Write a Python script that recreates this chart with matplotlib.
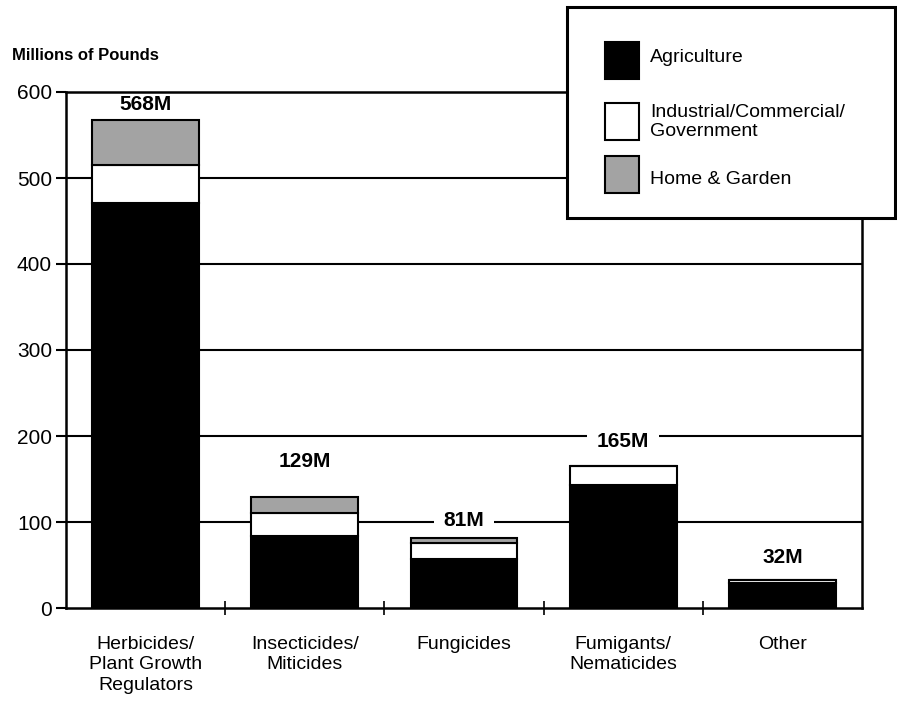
#!/bin/python3
"""
Pesticide use by sector and pesticide type, stacked bar chart.
"""
import numpy as np
import matplotlib
matplotlib.use("Agg")
import matplotlib.pyplot as plt
from matplotlib.patches import Rectangle

plt.rcParams["font.family"] = ["Liberation Sans", "DejaVu Sans"]

categories = ["Herbicides/\nPlant Growth\nRegulators", "Insecticides/\nMiticides",
              "Fungicides", "Fumigants/\nNematicides", "Other"]
agriculture = [471, 84, 57, 143, 29]
industrial = [44, 26, 19, 22, 3]
home_garden = [53, 19, 5, 0, 0]
total_labels = ["568M", "129M", "81M", "165M", "32M"]

series_names = ["Agriculture", "Industrial/Commercial/\nGovernment", "Home & Garden"]
series_colors = ["black", "white", "#a3a3a3"]

# label heights above the bar tops (layout only)
label_offset = [17, 41, 21, 29, 27]


def main():
    W, H = 897, 701
    fig = plt.figure(figsize=(W / 100, H / 100), dpi=100)
    ax = fig.add_axes([66 / W, 1 - 608 / H, (862 - 66) / W, (608 - 92) / H])

    x = np.arange(len(categories))
    ag = np.array(agriculture)
    ind = np.array(industrial)
    hg = np.array(home_garden)
    bw = 0.67

    ax.bar(x, ag, bw, color=series_colors[0], edgecolor="black", lw=1.5, zorder=3)
    ax.bar(x, ind, bw, bottom=ag, color=series_colors[1], edgecolor="black", lw=1.5, zorder=3)
    ax.bar(x, hg, bw, bottom=ag + ind, color=series_colors[2], edgecolor="black", lw=1.5, zorder=3)

    totals = ag + ind + hg
    for i, lab in enumerate(total_labels):
        # white box breaks the grid line, spines stay on top
        ax.text(x[i], totals[i] + label_offset[i], lab, ha="center", va="center",
                fontsize=15, fontweight="bold", zorder=2,
                bbox=dict(facecolor="white", edgecolor="none", pad=7))

    for yv in [100, 200, 300, 400, 500]:
        ax.axhline(yv, color="black", lw=1.5, zorder=1)

    ax.set_xlim(-0.5, 4.5)
    ax.set_ylim(0, 600)
    ax.set_yticks([0, 100, 200, 300, 400, 500, 600])
    ax.tick_params(axis="y", labelsize=15, length=7, width=1.5, pad=3)
    ax.set_xticks(x)
    ax.set_xticklabels(categories, fontsize=14, linespacing=1.28, va="top")
    ax.tick_params(axis="x", length=0, pad=20)
    ax.set_xticks([0.5, 1.5, 2.5, 3.5], minor=True)
    ax.tick_params(axis="x", which="minor", direction="inout", length=10, width=1.2)
    for sp in ax.spines.values():
        sp.set_linewidth(1.8)
        sp.set_zorder(2.5)

    fig.text(12 / W, 1 - 55 / H, "Millions of Pounds", fontsize=12, fontweight="bold",
             va="center", ha="left")

    # legend box
    fig.add_artist(Rectangle((567 / W, 1 - 218 / H), (895 - 567) / W, (218 - 7) / H,
                             transform=fig.transFigure, facecolor="white",
                             edgecolor="black", lw=2.2, zorder=5))
    sq_top = [42, 103, 156]
    text_y = [58, 122, 180]
    for name, col, top, ty in zip(series_names, series_colors, sq_top, text_y):
        fig.add_artist(Rectangle((605 / W, 1 - (top + 37) / H), 34 / W, 37 / H,
                                 transform=fig.transFigure, facecolor=col,
                                 edgecolor="black", lw=1.5, zorder=6))
        fig.text(650 / W, 1 - ty / H, name, fontsize=14, va="center", ha="left",
                 linespacing=1.2, zorder=7)

    plt.savefig("out.png", dpi=100)
    plt.close()


if __name__ == "__main__":
    main()
